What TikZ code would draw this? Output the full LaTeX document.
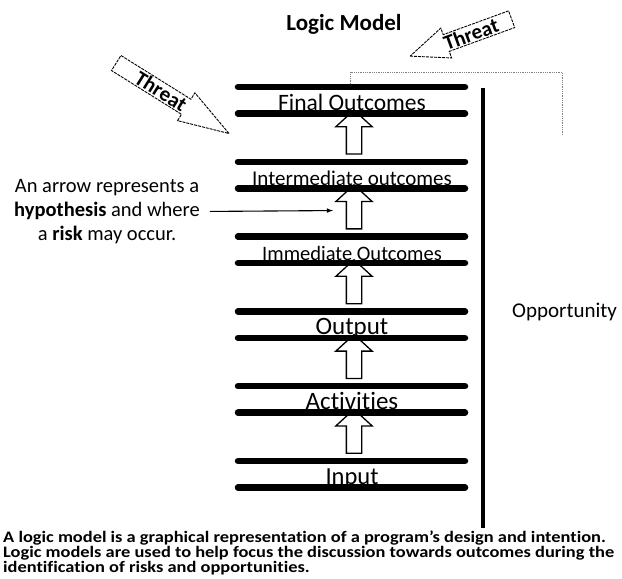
\documentclass[tikz,border=0pt]{standalone}
\usepackage{fontspec}
\setmainfont{Carlito}[Ligatures=NoCommon]
\newfontfamily\widefont{Carlito}[FakeStretch=1.15, Ligatures=NoCommon]
\usetikzlibrary{shapes.arrows}

\tikzset{
    bar/.style={line width=6.5pt, line cap=round},
    levtext/.style={anchor=base, inner sep=0pt},
    hollow/.style={single arrow, draw, line width=1.3pt, rotate=90,
        inner sep=7pt, minimum height=44pt,
        single arrow head extend=10.5pt, single arrow tip angle=95},
    threat/.style={single arrow, draw, line width=0.9pt, inner xsep=2pt, inner ysep=1pt,
        dash pattern=on 3pt off 1pt, font=\fontsize{21}{21}\selectfont\bfseries},
}

\begin{document}
\begin{tikzpicture}[x=1pt, y=-1pt]
    \useasboundingbox (0,0) rectangle (622,579);

    \node[anchor=base, font=\fontsize{23}{23}\selectfont\bfseries] (title) at (344,30) {Logic Model};

    % the six levels, each between two thick bars
    \foreach \name/\txt/\sz [count=\i from 0] in {fin/Final Outcomes/23.5,
            inter/Intermediate outcomes/21, immed/Immediate Outcomes/20.5,
            outp/Output/25, act/Activities/25, inp/Input/24.5} {
        \pgfmathsetmacro{\yt}{87+74.8*\i}
        \pgfmathsetmacro{\yb}{\yt+26.5}
        \draw[bar] (238,\yt) -- (465,\yt);
        \draw[bar] (238,\yb) -- (465,\yb);
        \node[levtext, font=\fontsize{\sz}{\sz}\selectfont] (\name) at (352,\yb-3) {\txt};
        \ifnum\i>0
            \node[hollow] (up\i) at (354,\yt-26.2) {};
        \fi
    }

    % opportunity side
    \draw[line width=3.5pt] (483,88) -- (483,528);
    \node[anchor=base west, inner sep=0pt, font=\fontsize{21}{21}\selectfont] (opp) at (512,317) {Opportunity};
    \coordinate (brk) at (350,84);
    \draw[gray, line width=0.8pt, densely dotted] (brk) -- ++(0,-12) -- ++(212,0) -- ++(0,63);

    % threats
    \node[threat, rotate=-32, minimum height=133pt,
        single arrow head extend=7.5pt, single arrow tip angle=36] (threatL) at (161,91) {Threat};
    \node[threat, rotate=20, shape border rotate=180, minimum height=108pt,
        single arrow head extend=7pt, single arrow tip angle=45] (threatR) at (471,34) {Threat};

    % hypothesis note
    \node[align=center, inner sep=0pt, font=\fontsize{20.5}{24}\selectfont] (hyp) at (107,211.5)
        {An arrow represents a\\ \textbf{hypothesis} and where\\ a \textbf{risk} may occur.};
    \draw[-latex, line width=1.1pt, shorten <=10pt, shorten >=21pt] (hyp.east) -- (up2.center);

    \node[anchor=north west, align=left, inner sep=0pt, font=\widefont\fontsize{16}{15}\selectfont\bfseries] (note) at (3,531)
        {A logic model is a graphical representation of a program’s design and intention.\\
         Logic models are used to help focus the discussion towards outcomes during the\\
         identification of risks and opportunities.};
\end{tikzpicture}
\end{document}
